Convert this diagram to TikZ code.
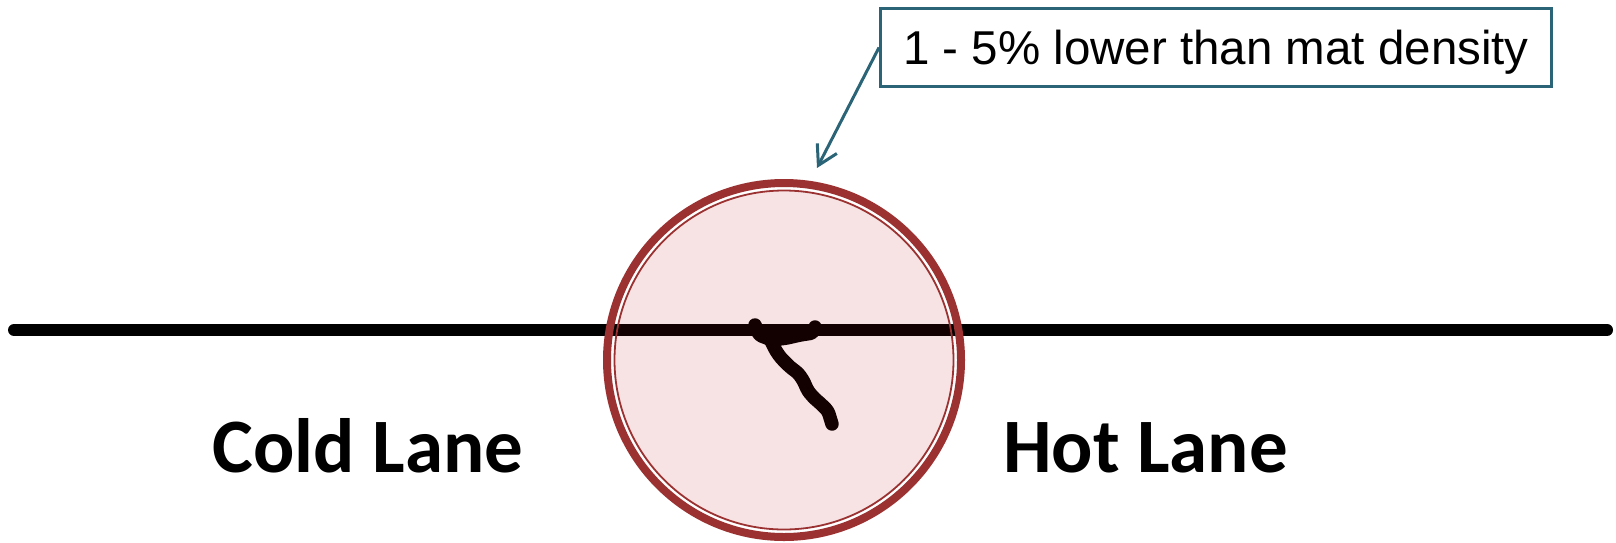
\documentclass[tikz,border=0pt]{standalone}
\usepackage{fontspec}
\setmainfont{Liberation Sans}
\newfontfamily\calibfont{Carlito}
\usetikzlibrary{arrows.meta}
\definecolor{tealline}{HTML}{2B6476}
\definecolor{ringred}{HTML}{9B3131}
\definecolor{tintred}{HTML}{B40000}
\tikzset{
  lanelabel/.style={font=\calibfont\bfseries\fontsize{77}{80}\selectfont, anchor=base, inner sep=0pt},
  joint/.style={line width=12pt, line cap=round, line join=round, black},
  crack/.style={line width=13.5pt, line cap=round, line join=round, rounded corners=3pt, black},
}
\begin{document}
\begin{tikzpicture}[x=1pt,y=-1pt]
\useasboundingbox (0,0) rectangle (1616,542);
% lane joint line
\coordinate (lstart) at (14,330);
\coordinate (lend) at (1607,330);
\draw[joint] (lstart) -- (lend);
% crack
\draw[crack] (755,325) -- (759,335) -- (772,340) -- (787,338) -- (800,335) -- (813,333) -- (815,327);
\draw[crack] (771,341) -- (776,351) -- (781,358) -- (790,367) -- (798,373) -- (803,380) -- (808,391) -- (814,398) -- (821,404) -- (828,411) -- (832,424);
% circle
\fill[tintred, fill opacity=0.11] (784,360) circle (169);
\draw[ringred, line width=8pt] (784,360) circle (177);
\draw[ringred, line width=1.8pt] (784,360) circle (169.5);
% labels
\node[lanelabel] (cold) at (368,472) {Cold Lane};
\node[lanelabel] (hot) at (1145.5,472) {Hot Lane};
% callout
\node[draw=tealline, line width=3pt, minimum width=671pt, minimum height=78pt, inner sep=0pt,
      text height=34pt, text depth=0pt, font=\fontsize{47.5}{50}\selectfont] (box) at (1216,47.5)
      {1 - 5\% lower than mat density};
\coordinate (tip) at (817,168);
\draw[tealline, line width=3pt, -{Straight Barb[length=19pt,width=22pt]}] (box.west) -- (tip);
\end{tikzpicture}
\end{document}
